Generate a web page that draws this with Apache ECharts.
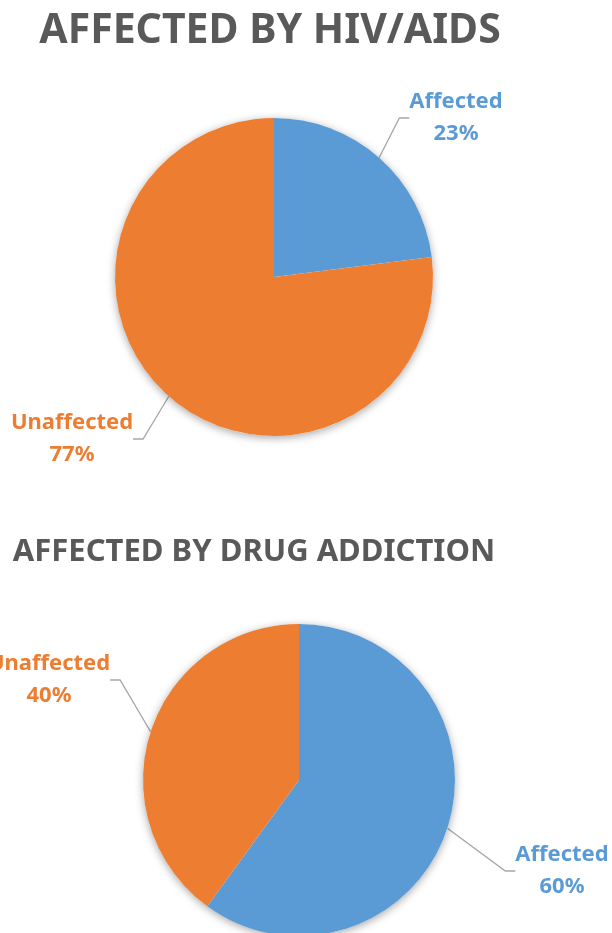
<!DOCTYPE html>
<html>
<head>
<meta charset="utf-8">
<script src="https://cdn.jsdelivr.net/npm/echarts@6/dist/echarts.min.js"></script>
<style>
html,body{margin:0;padding:0;background:#fff;}
#chart{width:612px;height:933px;}
</style>
</head>
<body>
<div id="chart"></div>
<script>
// ---- data ----
const hivTitle = 'AFFECTED BY HIV/AIDS';
const hivCategories = ['Affected', 'Unaffected'];
const hivValues = [23, 77];

const drugTitle = 'AFFECTED BY DRUG ADDICTION';
const drugCategories = ['Affected', 'Unaffected'];
const drugValues = [60, 40];

// ---- styling ----
const colors = { Affected: '#5B9BD5', Unaffected: '#ED7D31' };
const FONT = '"Noto Sans", "Open Sans", sans-serif';

const pies = [
  { center: [274, 277], radius: 159, cats: hivCategories, vals: hivValues,
    labelPos: [[456, 118], [72, 439]] },
  { center: [299, 780], radius: 156, cats: drugCategories, vals: drugValues,
    labelPos: [[562, 871], [49, 680]] }
];

const series = [];
pies.forEach(function (p, pi) {
  // soft outer shadow behind the pie (decorative)
  series.push({
    type: 'pie', silent: true, center: p.center, radius: p.radius,
    label: { show: false }, labelLine: { show: false },
    itemStyle: { color: '#ffffff', shadowBlur: 9, shadowColor: 'rgba(0,0,0,0.35)', shadowOffsetY: 2 },
    data: [{ value: 1 }], animation: false
  });
  series.push({
    type: 'pie', center: p.center, radius: p.radius, startAngle: 90, clockwise: true,
    animation: false, silent: true,
    data: p.cats.map(function (c, i) {
      return { name: c, value: p.vals[i], itemStyle: { color: colors[c] }, label: { color: colors[c] } };
    }),
    label: {
      show: true, position: 'outside', formatter: '{b}\n{c}%', overflow: 'none',
      fontFamily: FONT, fontWeight: 'bold', fontSize: 22, lineHeight: 32
    },
    labelLine: { show: true, length: 20, length2: 10, smooth: false,
      lineStyle: { color: '#A6A6A6', width: 1.3 } },
    labelLayout: (function (pos) {
      return function (params) {
        const q = pos[params.dataIndex];
        return { x: q[0], y: q[1], align: 'center', verticalAlign: 'middle' };
      };
    })(p.labelPos)
  });
});

const chart = echarts.init(document.getElementById('chart'), null, { renderer: 'canvas' });
chart.setOption({
  backgroundColor: '#ffffff',
  animation: false,
  graphic: [
    { type: 'text', x: 270, y: 31, style: { text: hivTitle, fill: '#595959',
      font: 'bold 41px ' + FONT, align: 'center', verticalAlign: 'middle' } },
    { type: 'text', x: 254, y: 552, style: { text: drugTitle, fill: '#595959',
      font: 'bold 31px ' + FONT, align: 'center', verticalAlign: 'middle' } }
  ],
  series: series
});
</script>
</body>
</html>
